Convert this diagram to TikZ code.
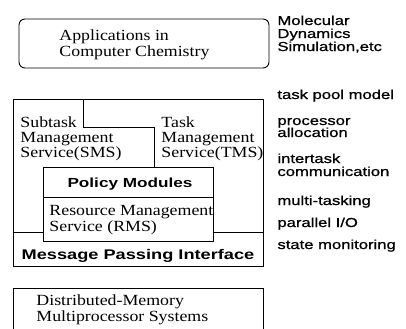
\documentclass[tikz,border=0pt]{standalone}
\usepackage{fontspec}
\setmainfont{Liberation Serif}[FakeStretch=1.15]
\newfontfamily\lsans{Liberation Sans}[FakeStretch=1.3]
\newfontfamily\lsanslab{Liberation Sans}[FakeStretch=1.28,FakeBold=0.9]
\begin{document}
\begin{tikzpicture}[x=1bp,y=-1bp,line width=0.9bp,
  ser/.style={font=\fontsize{15.5bp}{16bp}\selectfont,anchor=base west,inner sep=0pt},
  lab/.style={font=\lsanslab\fontsize{13bp}{13bp}\selectfont,anchor=base west,inner sep=0pt},
  hd/.style={font=\lsans\bfseries\fontsize{14bp}{14bp}\selectfont,anchor=base,inner sep=0pt}]
\useasboundingbox (0,0) rectangle (406,329);
% boxes
\draw[rounded corners=6bp] (19,19) rectangle (269,68);
\draw (13,99) rectangle (263,266);
\draw (83,99) -- (83,127) -- (154,127) -- (154,167);
\draw (43,167) rectangle (213,241);
\draw (43,197) -- (213,197);
\draw (13,232) -- (43,232);
\draw (213,232) -- (263,232);
\draw (13,331) -- (13,288) -- (263,288) -- (263,331);
% serif texts
\node[ser] (app1) at (59,40) {Applications in};
\node[ser] (app2) at (59,56) {Computer Chemistry};
\node[ser] (sms1) at (20,127) {Subtask};
\node[ser] (sms2) at (20,142) {Management};
\node[ser] (sms3) at (20,157) {Service(SMS)};
\node[ser] (tms1) at (161,127) {Task};
\node[ser] (tms2) at (161,142) {Management};
\node[ser] (tms3) at (161,157) {Service(TMS)};
\node[ser] (rms1) at (49,215) {Resource Management};
\node[ser] (rms2) at (49,231) {Service (RMS)};
\node[ser] (dm1) at (36,305) {Distributed-Memory};
\node[ser] (dm2) at (36,321) {Multiprocessor Systems};
% sans headings
\node[hd,font=\lsans\bfseries\fontsize{13.2bp}{14bp}\selectfont] (pm) at (130,187) {Policy Modules};
\node[hd] (mpi) at (138,259) {Message Passing Interface};
% right labels
\node[lab] (md1) at (277,25) {Molecular};
\node[lab] (md2) at (277,38) {Dynamics};
\node[lab] (md3) at (277,51) {Simulation,etc};
\node[lab] (l1) at (277,99) {task pool model};
\node[lab] (l2) at (277,125) {processor};
\node[lab] (l3) at (277,137) {allocation};
\node[lab] (l4) at (277,163) {intertask};
\node[lab] (l5) at (277,176) {communication};
\node[lab] (l6) at (277,205) {multi-tasking};
\node[lab] (l7) at (277,227) {parallel I/O};
\node[lab] (l8) at (277,249) {state monitoring};
\end{tikzpicture}
\end{document}
